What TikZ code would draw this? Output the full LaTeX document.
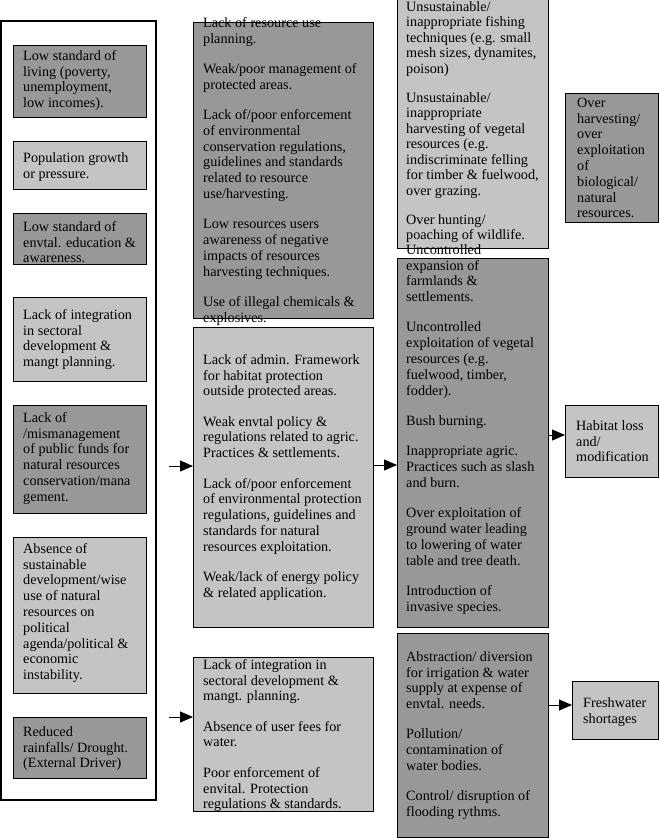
\documentclass[tikz,border=0pt]{standalone}
\usepackage{fontspec}
\setmainfont{Liberation Serif}
\usetikzlibrary{arrows.meta}
\definecolor{darkfill}{RGB}{152,152,152}
\definecolor{lightfill}{RGB}{196,196,196}
\begin{document}
\begin{tikzpicture}[x=1pt,y=-1pt,
  box/.style={draw=black, line width=0.9pt, anchor=north west, inner sep=0pt, outer sep=0pt},
  dbox/.style={box, fill=darkfill},
  lbox/.style={box, fill=lightfill},
  frm/.style={draw=black, line width=2pt, anchor=north west, inner sep=0pt, outer sep=0pt},
  txt/.style={anchor=north west, inner sep=0pt, align=left, font=\fontsize{14.2}{15.8}\selectfont},
  arr/.style={-{Triangle[length=13pt,width=11pt]}, line width=0.9pt},
]
\useasboundingbox (0,0) rectangle (660,839);

% outer frame
\node[frm, minimum width=155.1pt, minimum height=779.6pt] (frame) at (1.2,20.7) {};

% left column boxes
\node[dbox, minimum width=133pt, minimum height=72pt]  (b1) at (13,45) {};
\node[lbox, minimum width=133pt, minimum height=48pt]  (b2) at (13,141) {};
\node[dbox, minimum width=133pt, minimum height=51pt]  (b3) at (13,213) {};
\node[lbox, minimum width=133pt, minimum height=84pt]  (b4) at (13,297) {};
\node[dbox, minimum width=133pt, minimum height=108pt] (b5) at (13,405) {};
\node[lbox, minimum width=133pt, minimum height=156pt] (b6) at (13,537) {};
\node[dbox, minimum width=133pt, minimum height=61pt]  (b7) at (13,717) {};

% column 2
\node[dbox, minimum width=180pt, minimum height=296pt] (c2a) at (193,22) {};
\node[lbox, minimum width=180pt, minimum height=300pt] (c2b) at (193,327) {};
\node[lbox, minimum width=180pt, minimum height=154pt] (c2c) at (193,657) {};

% column 3
\node[lbox, minimum width=151pt, minimum height=250pt] (c3a) at (397,-2) {};
\node[dbox, minimum width=151pt, minimum height=369pt] (c3b) at (397,258) {};
\node[dbox, minimum width=151pt, minimum height=204pt] (c3c) at (397,633) {};

% outcomes
\node[dbox, minimum width=93pt, minimum height=129pt] (oh) at (565,93) {};
\node[lbox, minimum width=93pt, minimum height=72pt]  (hl) at (565,405) {};
\node[lbox, minimum width=86pt, minimum height=58pt]  (fw) at (572,681) {};

% texts left column
\node[txt] (t1) at (23,49) {\strut Low standard of\\ living (poverty,\\ unemployment,\\ low incomes).};
\node[txt] (t2) at (23,151) {\strut Population growth\\ or pressure.};
\node[txt] (t3) at (23,220) {\strut Low standard of\\ envtal. education \&\\ awareness.};
\node[txt] (t4) at (23,308) {\strut Lack of integration\\ in sectoral\\ development \&\\ mangt planning.};
\node[txt] (t5) at (23,411) {\strut Lack of\\ /mismanagement\\ of public funds for\\ natural resources\\ conservation/mana\\ gement.};
\node[txt] (t6) at (23,542) {\strut Absence of\\ sustainable\\ development/wise\\ use of natural\\ resources on\\ political\\ agenda/political \&\\ economic\\ instability.};
\node[txt] (t7) at (23,725) {\strut Reduced\\ rainfalls/ Drought.\\ (External Driver)};

% texts column 2
\node[txt] (tc2a) at (203,16) {\strut Lack of resource use\\ planning.\\[14.5pt] Weak/poor management of\\ protected areas.\\[14.5pt] Lack of/poor enforcement\\ of environmental\\ conservation regulations,\\ guidelines and standards\\ related to resource\\ use/harvesting.\\[14.5pt] Low resources users\\ awareness of negative\\ impacts of resources\\ harvesting techniques.\\[14.5pt] Use of illegal chemicals \&\\ explosives.};
\node[txt] (tc2b) at (203,353) {\strut Lack of admin. Framework\\ for habitat protection\\ outside protected areas.\\[14.5pt] Weak envtal policy \&\\ regulations related to agric.\\ Practices \& settlements.\\[14.5pt] Lack of/poor enforcement\\ of environmental protection\\ regulations, guidelines and\\ standards for natural\\ resources exploitation.\\[14.5pt] Weak/lack of energy policy\\ \& related application.};
\node[txt] (tc2c) at (203,658) {\strut Lack of integration in\\ sectoral development \&\\ mangt. planning.\\[14.5pt] Absence of user fees for\\ water.\\[14.5pt] Poor enforcement of\\ envital. Protection\\ regulations \& standards.};

% texts column 3
\node[txt, font=\fontsize{14.2}{15.5}\selectfont] (tc3a) at (406,0.3) {\strut Unsustainable/\\ inappropriate fishing\\ techniques (e.g. small\\ mesh sizes, dynamites,\\ poison)\\[13.5pt] Unsustainable/\\ inappropriate\\ harvesting of vegetal\\ resources (e.g.\\ indiscriminate felling\\ for timber \& fuelwood,\\ over grazing.\\[13.5pt] Over hunting/\\ poaching of wildlife.};
\node[txt] (tc3b) at (406,243) {\strut Uncontrolled\\ expansion of\\ farmlands \&\\ settlements.\\[14.5pt] Uncontrolled\\ exploitation of vegetal\\ resources (e.g.\\ fuelwood, timber,\\ fodder).\\[14.5pt] Bush burning.\\[14.5pt] Inappropriate agric.\\ Practices such as slash\\ and burn.\\[14.5pt] Over exploitation of\\ ground water leading\\ to lowering of water\\ table and tree death.\\[14.5pt] Introduction of\\ invasive species.};
\node[txt] (tc3c) at (406,650) {\strut Abstraction/ diversion\\ for irrigation \& water\\ supply at expense of\\ envtal. needs.\\[14.5pt] Pollution/\\ contamination of\\ water bodies.\\[14.5pt] Control/ disruption of\\ flooding rythms.};

% texts outcomes
\node[txt] (toh) at (577,96) {\strut Over\\ harvesting/\\ over\\ exploitation\\ of\\ biological/\\ natural\\ resources.};
\node[txt] (thl) at (576,419) {\strut Habitat loss\\ and/\\ modification};
\node[txt] (tfw) at (583,696) {\strut Freshwater\\ shortages};

% connectors
\coordinate (s1) at (168.5,466);
\coordinate (s4) at (168.5,717);
\coordinate (m2) at (380,465);
\coordinate (m3) at (556,435);
\coordinate (m5) at (560,705);
\draw[arr] (s1) -- (s1 -| c2b.west);
\draw[arr] (s4) -- (s4 -| c2c.west);
\draw[arr] (c2b.east |- m2) -- (c3b.west |- m2);
\draw[arr] (c3b.east |- m3) -- (hl.west |- m3);
\draw[arr] (c3c.east |- m5) -- (fw.west |- m5);
\end{tikzpicture}
\end{document}
